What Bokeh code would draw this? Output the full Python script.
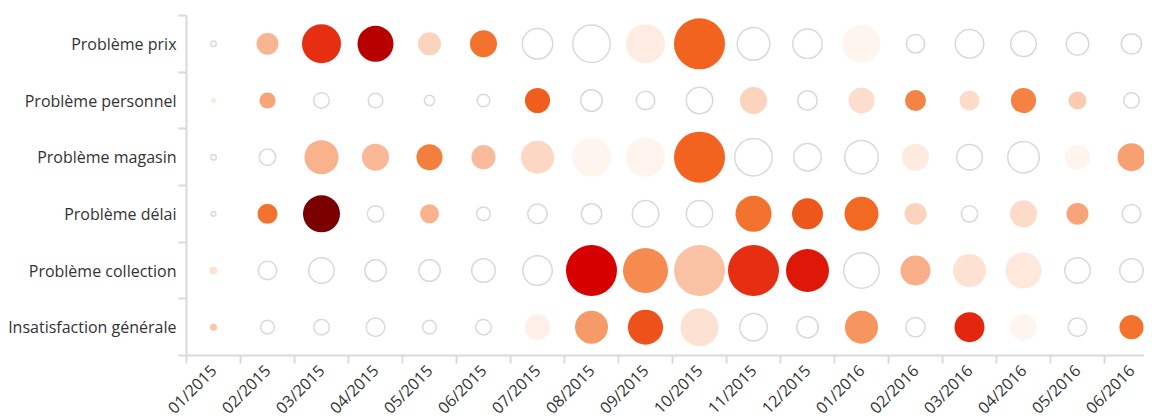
import math
from bokeh.plotting import figure
from bokeh.models import ColumnDataSource, LinearColorMapper, FixedTicker
from bokeh.embed import file_html
from bokeh.resources import INLINE

months = ["01/2015", "02/2015", "03/2015", "04/2015", "05/2015", "06/2015",
          "07/2015", "08/2015", "09/2015", "10/2015", "11/2015", "12/2015",
          "01/2016", "02/2016", "03/2016", "04/2016", "05/2016", "06/2016"]

categories = ["Problème prix", "Problème personnel", "Problème magasin",
              "Problème délai", "Problème collection", "Insatisfaction générale"]

# volume (bubble area) per category / month
count_prix = [5, 48, 152, 130, 53, 73, 102, 152, 152, 260, 116, 96, 144, 40, 90, 73, 58, 48]
count_personnel = [3, 26, 29, 26, 14, 20, 63, 53, 40, 78, 73, 44, 68, 44, 40, 63, 32, 29]
count_magasin = [5, 32, 116, 73, 68, 58, 109, 152, 152, 260, 152, 84, 123, 73, 73, 109, 63, 78]
count_delai = [4, 40, 137, 32, 36, 23, 44, 48, 78, 78, 130, 96, 116, 48, 32, 73, 48, 40]
count_collection = [6, 40, 73, 53, 53, 63, 96, 260, 203, 260, 260, 185, 137, 90, 109, 130, 73, 63]
count_insatisfaction = [5, 23, 29, 40, 23, 29, 63, 109, 123, 144, 84, 53, 109, 44, 90, 68, 40, 58]

# intensity score (None = no score -> empty circle)
score_prix = [None, 0.32, 0.70, 0.88, 0.20, 0.52, None, None, 0.08, 0.57, None, None, 0.02, None, None, None, None, None]
score_personnel = [0.10, 0.37, None, None, None, None, 0.58, None, None, None, 0.20, None, 0.16, 0.47, 0.17, 0.48, 0.24, None]
score_magasin = [None, None, 0.33, 0.31, 0.49, 0.30, 0.19, 0.02, 0.03, 0.57, None, None, None, 0.09, None, None, 0.02, 0.38]
score_delai = [None, 0.52, 1.00, None, 0.33, None, None, None, None, None, 0.52, 0.60, 0.55, 0.20, None, 0.17, 0.37, None]
score_collection = [0.15, None, None, None, None, None, None, 0.80, 0.45, 0.27, 0.70, 0.75, None, 0.34, 0.14, 0.10, None, None]
score_insatisfaction = [0.26, None, None, None, None, None, 0.05, 0.40, 0.61, 0.14, None, None, 0.42, None, 0.72, 0.02, None, 0.52]

counts = [count_prix, count_personnel, count_magasin, count_delai, count_collection, count_insatisfaction]
scores = [score_prix, score_personnel, score_magasin, score_delai, score_collection, score_insatisfaction]

# ---- palette (style) ----
stops = [(0.0, "#fff8f4"), (0.15, "#fde0d0"), (0.30, "#f9bb9b"), (0.45, "#f58b4f"),
         (0.55, "#f26a21"), (0.70, "#e63012"), (0.80, "#d60000"), (0.90, "#b00000"),
         (1.0, "#7a0000")]


def hex2rgb(h):
    h = h.lstrip("#")
    return [int(h[i:i + 2], 16) for i in (0, 2, 4)]


palette = []
for k in range(256):
    t = k / 255
    for (t0, c0), (t1, c1) in zip(stops[:-1], stops[1:]):
        if t0 <= t <= t1:
            f = (t - t0) / (t1 - t0)
            a, b = hex2rgb(c0), hex2rgb(c1)
            rgb = [round(a[i] + (b[i] - a[i]) * f) for i in range(3)]
            palette.append("#%02x%02x%02x" % tuple(rgb))
            break

mapper = LinearColorMapper(palette=palette, low=0, high=1)

MAX_D = 51
MAX_COUNT = max(max(c) for c in counts)

fx, fy, fs, fv = [], [], [], []
ex, ey, es = [], [], []
n_cat = len(categories)
for ci, (crow, srow) in enumerate(zip(counts, scores)):
    yv = n_cat - ci - 0.5
    for mi, (c, s) in enumerate(zip(crow, srow)):
        xv = mi + 0.5
        d = MAX_D * math.sqrt(c / MAX_COUNT)
        if s is None:
            ex.append(xv); ey.append(yv); es.append(d - 1.5)
        else:
            fx.append(xv); fy.append(yv); fs.append(d); fv.append(s)

filled = ColumnDataSource(dict(x=fx, y=fy, size=fs, v=fv))
empty = ColumnDataSource(dict(x=ex, y=ey, size=es))

p = figure(frame_width=958, frame_height=340, x_range=(0, 958 / 54), y_range=(0, 6),
           output_backend="svg", toolbar_location=None,
           min_border_left=186, min_border_top=15, min_border_right=0, min_border_bottom=20)
p.outline_line_color = None
p.grid.visible = False
p.background_fill_color = "white"

p.scatter("x", "y", size="size", source=empty, fill_color="white",
          line_color="#d9d9d9", line_width=1.5)
p.scatter("x", "y", size="size", source=filled,
          fill_color={"field": "v", "transform": mapper}, line_color=None)

font = "Open Sans"
txt = "#333333"
axis_col = "#dadada"

p.xaxis.ticker = FixedTicker(ticks=[i + 0.5 for i in range(len(months))],
                             minor_ticks=list(range(len(months) + 1)))
p.xaxis.major_label_overrides = {i + 0.5: m for i, m in enumerate(months)}
p.xaxis.major_label_orientation = math.pi / 4
p.yaxis.ticker = FixedTicker(ticks=[n_cat - i - 0.5 for i in range(n_cat)],
                             minor_ticks=list(range(n_cat + 1)))
p.yaxis.major_label_overrides = {n_cat - i - 0.5: c for i, c in enumerate(categories)}

for ax in (p.xaxis, p.yaxis):
    ax.axis_line_color = axis_col
    ax.axis_line_width = 2
    ax.major_tick_line_color = None
    ax.major_tick_out = 0
    ax.major_tick_in = 0
    ax.minor_tick_line_color = axis_col
    ax.minor_tick_line_width = 2
    ax.minor_tick_out = 8
    ax.minor_tick_in = 0
    ax.major_label_text_font = font
    ax.major_label_text_font_size = "16px"
    ax.major_label_text_color = txt

p.yaxis.major_label_standoff = 2
p.xaxis.major_label_standoff = 4

open("out.html", "w").write(file_html(p, INLINE))
